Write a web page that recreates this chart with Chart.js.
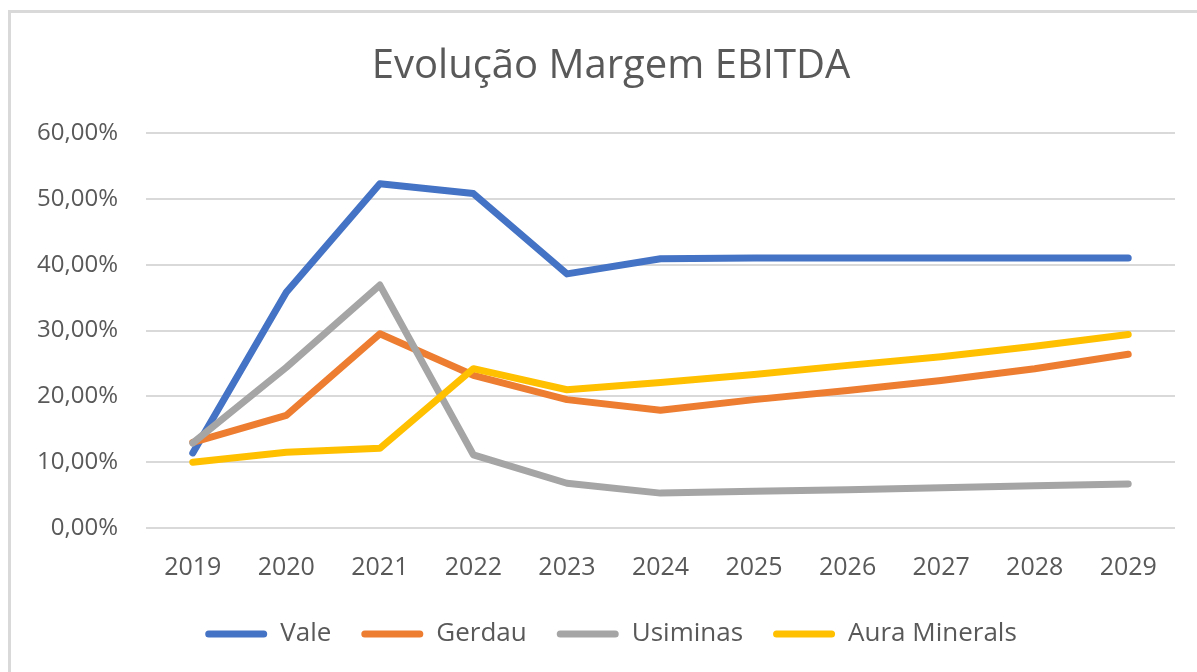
<!DOCTYPE html>
<html>
<head>
<meta charset="utf-8">
<script src="https://cdn.jsdelivr.net/npm/chart.js@4/dist/chart.umd.min.js"></script>
<style>
  html, body { margin: 0; padding: 0; background: #fff; overflow: hidden; }
  #wrap { position: absolute; left: 0; top: 0; width: 1197px; height: 672px; }
</style>
</head>
<body>
<div id="wrap"><canvas id="ebitdaChart"></canvas></div>
<script>
// data (percent)
const years = ['2019', '2020', '2021', '2022', '2023', '2024', '2025', '2026', '2027', '2028', '2029'];
const vale = [11.4, 35.8, 52.3, 50.8, 38.6, 40.9, 41.0, 41.0, 41.0, 41.0, 41.0];
const gerdau = [13.0, 17.1, 29.5, 23.2, 19.5, 17.9, 19.5, 20.9, 22.4, 24.2, 26.4];
const usiminas = [12.9, 24.4, 36.9, 11.1, 6.8, 5.3, 5.6, 5.8, 6.1, 6.4, 6.7];
const auraMinerals = [10.0, 11.5, 12.1, 24.2, 21.0, 22.1, 23.3, 24.7, 26.0, 27.6, 29.4];
const yTickLabels = ['0,00%', '10,00%', '20,00%', '30,00%', '40,00%', '50,00%', '60,00%'];

const textColor = '#595959';
const fontFamily = '"Open Sans", "Noto Sans", sans-serif';

// light grey frame like the Excel chart area (cut off on the right/bottom)
const framePlugin = {
  id: 'frame',
  afterLayout(chart) {
    // let the y tick labels run left of the layout padding without being clipped
    chart.scales.y.left = 0;
  },
  beforeDraw(chart) {
    const ctx = chart.ctx;
    ctx.save();
    ctx.strokeStyle = '#d9d9d9';
    ctx.lineWidth = 3;
    ctx.beginPath();
    ctx.moveTo(9.5, chart.height + 5);
    ctx.lineTo(9.5, 11.5);
    ctx.lineTo(chart.width + 5, 11.5);
    ctx.stroke();
    ctx.restore();
  }
};

function series(label, data, color, order) {
  return {
    label: label,
    data: data,
    borderColor: color,
    backgroundColor: color,
    borderWidth: 7,
    borderCapStyle: 'round',
    borderJoinStyle: 'round',
    pointRadius: 0,
    pointHoverRadius: 0,
    tension: 0,
    order: order
  };
}

const ctx = document.getElementById('ebitdaChart').getContext('2d');
const chart = new Chart(ctx, {
  type: 'line',
  data: {
    labels: years,
    datasets: [
      series('Vale', vale, '#4472C4', 4),
      series('Gerdau', gerdau, '#ED7D31', 3),
      series('Usiminas', usiminas, '#A5A5A5', 2),
      series('Aura Minerals', auraMinerals, '#FFC000', 1)
    ]
  },
  options: {
    responsive: true,
    maintainAspectRatio: false,
    animation: false,
    layout: {
      padding: { left: 47, right: 22, top: 0, bottom: 15 }
    },
    plugins: {
      title: {
        display: true,
        text: 'Evolução Margem EBITDA',
        color: textColor,
        font: { family: fontFamily, size: 40, weight: 'normal' },
        padding: { top: 43, bottom: 42 }
      },
      legend: {
        position: 'bottom',
        labels: {
          color: textColor,
          font: { family: fontFamily, size: 26 },
          boxWidth: 62,
          boxHeight: 7,
          padding: 30,
          useBorderRadius: true,
          borderRadius: 3.5,
          generateLabels(chart) {
            const items = Chart.defaults.plugins.legend.labels.generateLabels(chart);
            items.sort((a, b) => a.datasetIndex - b.datasetIndex);
            items.forEach(item => {
              item.fillStyle = item.strokeStyle;
              item.lineWidth = 0;
              item.borderRadius = 3.5;
            });
            return items;
          }
        }
      },
      tooltip: { enabled: false }
    },
    scales: {
      x: {
        offset: true,
        grid: { display: false, drawTicks: false, offset: true },
        border: { display: false },
        afterFit(scale) { scale.height = 63; },
        ticks: {
          color: textColor,
          font: { family: fontFamily, size: 25 },
          padding: 25,
          maxRotation: 0
        }
      },
      y: {
        min: 0,
        max: 60,
        grid: { color: '#d9d9d9', lineWidth: 2, drawTicks: false },
        border: { display: false },
        afterFit(scale) { scale.width = 99; },
        ticks: {
          stepSize: 10,
          color: textColor,
          font: { family: fontFamily, size: 24 },
          padding: 28,
          callback: (value, index) => yTickLabels[index]
        }
      }
    }
  },
  plugins: [framePlugin]
});
</script>
</body>
</html>
